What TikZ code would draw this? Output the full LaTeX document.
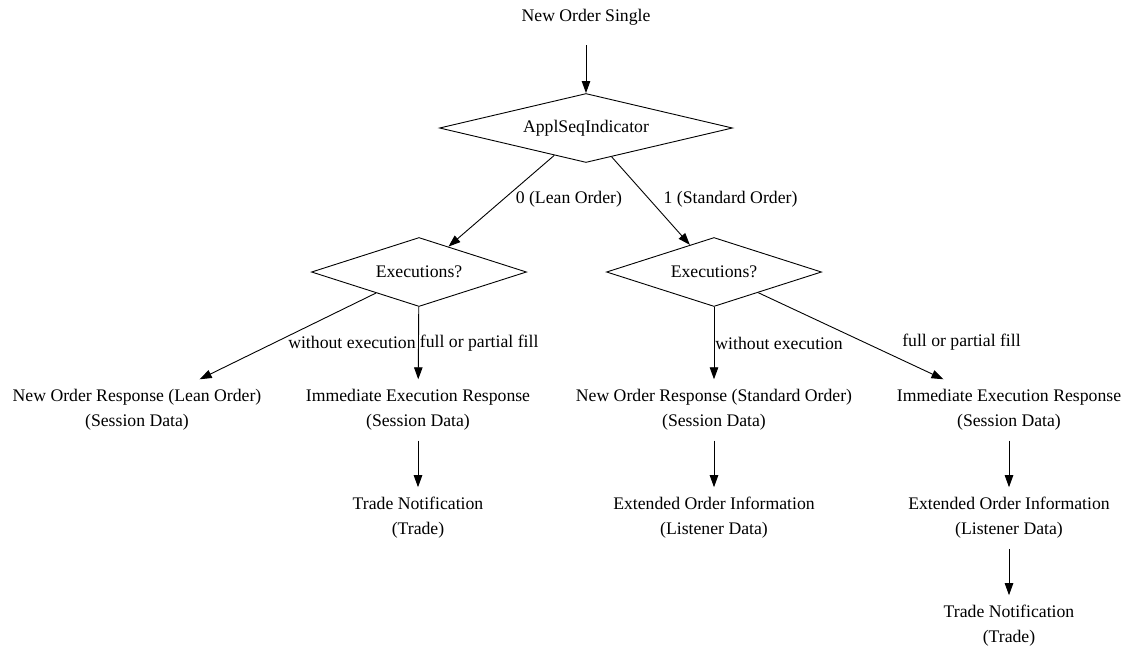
\documentclass[tikz,border=0pt]{standalone}
\usepackage{fontspec}
\setmainfont{Liberation Serif}
\usetikzlibrary{shapes.geometric, arrows.meta, positioning}

\begin{document}
\begin{tikzpicture}[x=1pt, y=-1pt, node distance=108pt,
  font=\fontsize{17.7}{25}\selectfont,
  msg/.style={align=center, inner xsep=2pt, inner ysep=10pt},
  dec/.style={diamond, draw, line width=0.9pt, inner sep=0pt, minimum height=69pt},
  lbl/.style={inner sep=0pt, anchor=west},
  flow/.style={-{Triangle[length=12pt,width=8.5pt]}, line width=0.9pt}]
\useasboundingbox (0,0) rectangle (1124,649);

\node (NOS) [minimum height=56pt] at (586,17) {New Order Single};
\node (ASI) [dec, minimum width=293pt, aspect=4.25] at (586,128) {ApplSeqIndicator};
\node (ExL) [dec, minimum width=215pt, aspect=3.1] at (419,272) {Executions?};
\node (ExR) [dec, minimum width=215pt, aspect=3.1] at (714,272) {Executions?};

\node (NRL) [msg] at (137,410) {New Order Response (Lean Order)\\(Session Data)};
\node (IEL) [msg] at (418,410) {Immediate Execution Response\\(Session Data)};
\node (TNL) [msg, below of=IEL] {Trade Notification\\(Trade)};

\node (NRS) [msg] at (714,410) {New Order Response (Standard Order)\\(Session Data)};
\node (EOS) [msg, below of=NRS] {Extended Order Information\\(Listener Data)};

\node (IER) [msg] at (1009,410) {Immediate Execution Response\\(Session Data)};
\node (EOR) [msg, below of=IER] {Extended Order Information\\(Listener Data)};
\node (TNR) [msg, below of=EOR] {Trade Notification\\(Trade)};

\draw[flow] (NOS) -- (ASI);
\draw[flow] (ASI) -- node[lbl, xshift=14pt, yshift=2pt] {0 (Lean Order)} (ExL);
\draw[flow] (ASI) -- node[lbl, xshift=12.5pt, yshift=2pt] {1 (Standard Order)} (ExR);

\draw[flow] (ExL) -- node[lbl, yshift=-6pt] {without execution} (NRL);
\draw[flow] (ExL) -- node[lbl, xshift=1pt] {full or partial fill} (IEL);
\draw[flow] (IEL) -- (TNL);

\draw[flow] (ExR) -- node[lbl, xshift=1pt] {without execution} (NRS);
\draw[flow] (ExR) -- node[lbl, xshift=51pt, yshift=-6pt] {full or partial fill} (IER);
\draw[flow] (NRS) -- (EOS);
\draw[flow] (IER) -- (EOR);
\draw[flow] (EOR) -- (TNR);
\end{tikzpicture}
\end{document}
